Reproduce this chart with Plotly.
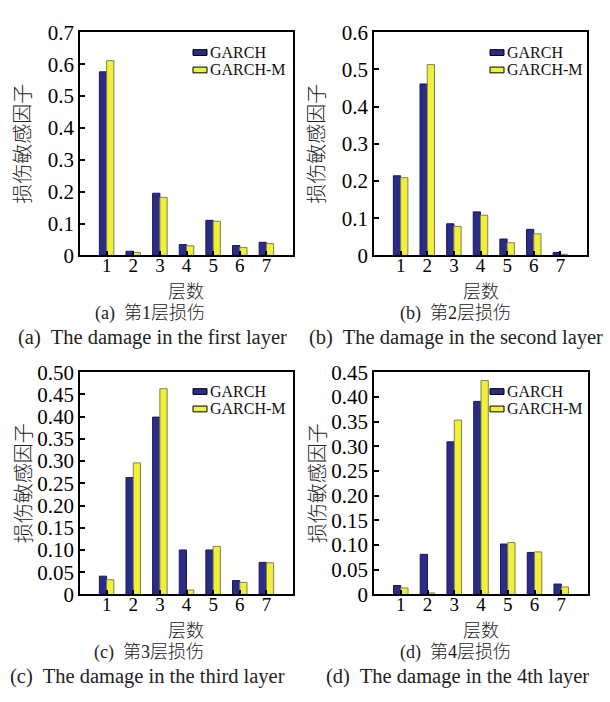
import plotly.graph_objects as go

W, H = 610, 702

layers = [1, 2, 3, 4, 5, 6, 7]
series_names = ["GARCH", "GARCH-M"]

a_garch = [0.576, 0.013, 0.195, 0.034, 0.110, 0.031, 0.041]
a_garchm = [0.611, 0.009, 0.182, 0.030, 0.107, 0.025, 0.037]
b_garch = [0.214, 0.461, 0.085, 0.117, 0.044, 0.070, 0.008]
b_garchm = [0.209, 0.513, 0.078, 0.108, 0.034, 0.058, 0.003]
c_garch = [0.041, 0.263, 0.399, 0.100, 0.100, 0.031, 0.072]
c_garchm = [0.033, 0.296, 0.463, 0.010, 0.108, 0.027, 0.071]
d_garch = [0.018, 0.081, 0.309, 0.391, 0.102, 0.085, 0.021]
d_garchm = [0.013, 0.003, 0.353, 0.433, 0.105, 0.086, 0.015]

ytick_a = [0, 0.1, 0.2, 0.3, 0.4, 0.5, 0.6, 0.7]
ytext_a = ["0", "0.1", "0.2", "0.3", "0.4", "0.5", "0.6", "0.7"]
ytick_b = [0, 0.1, 0.2, 0.3, 0.4, 0.5, 0.6]
ytext_b = ["0", "0.1", "0.2", "0.3", "0.4", "0.5", "0.6"]
ytick_c = [0, 0.05, 0.10, 0.15, 0.20, 0.25, 0.30, 0.35, 0.40, 0.45, 0.50]
ytext_c = ["0", "0.05", "0.10", "0.15", "0.20", "0.25", "0.30", "0.35", "0.40", "0.45", "0.50"]
ytick_d = [0, 0.05, 0.10, 0.15, 0.20, 0.25, 0.30, 0.35, 0.40, 0.45]
ytext_d = ["0", "0.05", "0.10", "0.15", "0.20", "0.25", "0.30", "0.35", "0.40", "0.45"]

y_title = "损伤敏感因子"
x_title = "层数"
captions_cn = ["(a)  第1层损伤", "(b)  第2层损伤", "(c)  第3层损伤", "(d)  第4层损伤"]
captions_en = ["(a)  The damage in the first layer", "(b)  The damage in the second layer",
               "(c)  The damage in the third layer", "(d)  The damage in the 4th layer"]

FONT = "Liberation Serif, 'Times New Roman', 'Noto Sans CJK SC', serif"
CJK = "'Noto Sans CJK SC', sans-serif"
BLUE = "#2B2B88"
BLUE_EDGE = "#1A1A55"
YELLOW = "#F0F03A"
YELLOW_EDGE = "#808050"
fills = [BLUE, YELLOW]
edges = [BLUE_EDGE, YELLOW_EDGE]

def px_x(p):
    return p / W

def px_y(p):
    return 1 - p / H

panels = [
    dict(g=a_garch, m=a_garchm, tv=ytick_a, tt=ytext_a, yr=[0, 0.7], x0=80, x1=293, y0=21, y1=252, lg=113, rows=[21, 39]),
    dict(g=b_garch, m=b_garchm, tv=ytick_b, tt=ytext_b, yr=[0, 0.6], x0=374, x1=587, y0=21, y1=252, lg=116, rows=[21, 39]),
    dict(g=c_garch, m=c_garchm, tv=ytick_c, tt=ytext_c, yr=[0, 0.5], x0=80, x1=293, y0=373, y1=603, lg=113, rows=[20, 38]),
    dict(g=d_garch, m=d_garchm, tv=ytick_d, tt=ytext_d, yr=[0, 0.45], x0=374, x1=588, y0=373, y1=603, lg=116, rows=[20, 38]),
]

fig = go.Figure()
layout = dict(
    width=W, height=H, margin=dict(l=0, r=0, t=0, b=0),
    paper_bgcolor="white", plot_bgcolor="white",
    barmode="group", bargap=0.455, bargroupgap=0, showlegend=False,
    font=dict(family=FONT, color="black", size=16),
    annotations=[], shapes=[],
)

for i, p in enumerate(panels):
    sfx = "" if i == 0 else str(i + 1)
    for k, vals in enumerate([p["g"], p["m"]]):
        fig.add_trace(go.Bar(x=layers, y=vals, name=series_names[k], xaxis="x" + sfx, yaxis="y" + sfx,
                             marker=dict(color=fills[k], line=dict(color=edges[k], width=1))))
    layout["xaxis" + sfx] = dict(
        domain=[px_x(p["x0"]), px_x(p["x1"])], anchor="y" + sfx, range=[0, 8],
        tickvals=layers, ticktext=[str(v) for v in layers],
        showline=True, mirror=True, linecolor="black", linewidth=1.5,
        ticks="inside", ticklen=5, tickwidth=1.5, tickcolor="black",
        showgrid=False, zeroline=False, tickfont=dict(size=19, family=FONT),
        ticklabelstandoff=-8,
    )
    layout["yaxis" + sfx] = dict(
        domain=[px_y(p["y1"]), px_y(p["y0"])], anchor="x" + sfx, range=p["yr"],
        tickvals=p["tv"], ticktext=p["tt"],
        showline=True, mirror=True, linecolor="black", linewidth=1.5,
        ticks="inside", ticklen=5, tickwidth=1.5, tickcolor="black",
        showgrid=False, zeroline=False, tickfont=dict(size=21, family=FONT),
    )
    for k, name in enumerate(series_names):
        ry = p["y0"] + p["rows"][k]
        sx = p["x0"] + p["lg"]
        layout["shapes"].append(dict(
            type="rect", xref="paper", yref="paper",
            x0=px_x(sx), x1=px_x(sx + 14), y0=px_y(ry + 3), y1=px_y(ry - 3),
            fillcolor=fills[k], line=dict(color="black", width=1)))
        layout["annotations"].append(dict(
            text=name, x=px_x(sx + 15), y=px_y(ry), xref="paper", yref="paper",
            showarrow=False, xanchor="left", yanchor="middle",
            font=dict(size=16, family=FONT, color="#111")))
    cx = (p["x0"] + p["x1"]) / 2
    cy = (p["y0"] + p["y1"]) / 2
    top = i < 2
    layout["annotations"].append(dict(
        text=y_title, x=px_x(p["x0"] - 58), y=px_y(cy), xref="paper", yref="paper",
        textangle=-90, showarrow=False, font=dict(size=20, family=CJK, color="#222", weight=300),
        xanchor="center", yanchor="middle"))
    layout["annotations"].append(dict(
        text=x_title, x=px_x(cx), y=px_y(288 if top else 639), xref="paper", yref="paper",
        showarrow=False, font=dict(size=18, family=CJK, color="#222", weight=300),
        xanchor="center", yanchor="middle", borderpad=0))
    capx = [150, 455, 149, 455][i]
    enx = [152, 456, 147, 457][i]
    layout["annotations"].append(dict(
        text=captions_cn[i], x=px_x(capx), y=px_y(312 if top else 663), xref="paper", yref="paper",
        showarrow=False, font=dict(size=18, family=FONT, color="#222", weight=300),
        xanchor="center", yanchor="middle", borderpad=0))
    layout["annotations"].append(dict(
        text=captions_en[i], x=px_x(enx), y=px_y(337 if top else 688), xref="paper", yref="paper",
        showarrow=False, font=dict(size=20.5, family=FONT, color="#222"),
        xanchor="center", yanchor="middle", borderpad=0))

fig.update_layout(**layout)
fig.write_html("out.html")
